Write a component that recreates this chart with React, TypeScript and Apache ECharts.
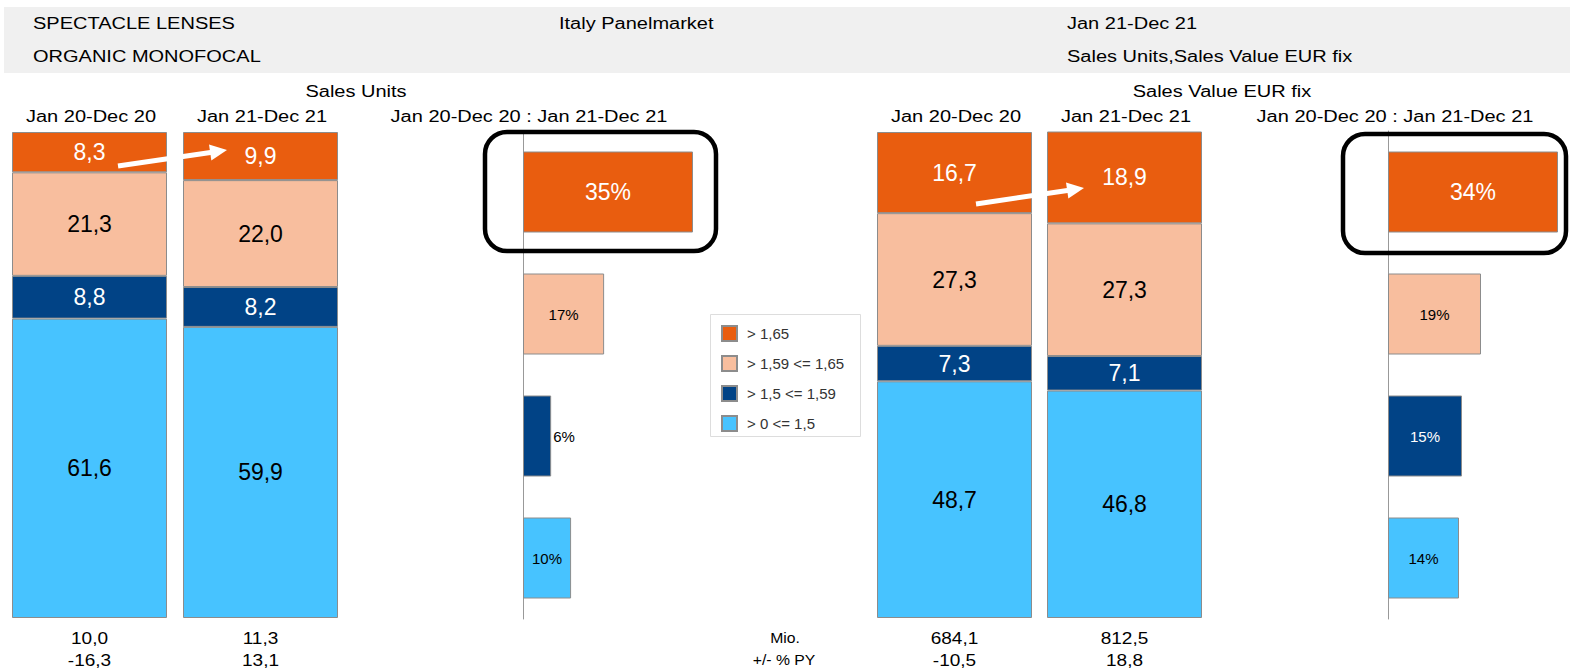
import React, { useEffect, useRef } from "react";
import * as echarts from "echarts";

// ---- data ----
const periods = ["Jan 20-Dec 20", "Jan 21-Dec 21"];
const classes = ["> 1,65", "> 1,59 <= 1,65", "> 1,5 <= 1,59", "> 0 <= 1,5"];

const unitsHigh = [8.3, 9.9];
const unitsMidHigh = [21.3, 22.0];
const unitsMidLow = [8.8, 8.2];
const unitsLow = [61.6, 59.9];

const valueHigh = [16.7, 18.9];
const valueMidHigh = [27.3, 27.3];
const valueMidLow = [7.3, 7.1];
const valueLow = [48.7, 46.8];

const unitsGrowth = [35, 16.7, 5.8, 9.9];
const valueGrowth = [34, 18.6, 14.8, 14.2];

const unitsTotal = ["10,0", "11,3"];
const unitsChange = ["-16,3", "13,1"];
const valueTotal = ["684,1", "812,5"];
const valueChange = ["-10,5", "18,8"];

const headerLeft = ["SPECTACLE LENSES", "ORGANIC MONOFOCAL"];
const headerMid = "Italy Panelmarket";
const headerRight = ["Jan 21-Dec 21", "Sales Units,Sales Value EUR fix"];

const COLORS = ["#E95D0F", "#F8BE9E", "#014386", "#47C3FF"];
const LABEL_COLORS = ["#fff", "#000", "#fff", "#000"];
const FONT = "Liberation Sans, Arial, sans-serif";
const BORDER = "#8c8c8c";

const fmt = (v: number) => v.toFixed(1).replace(".", ",");

function txt(text: string, x: number, y: number, align: string, size = 16, sx = 1.25, color = "#000") {
  return {
    type: "text",
    x,
    y,
    scaleX: sx,
    z: 20,
    style: {
      text,
      fill: color,
      fontSize: size,
      fontFamily: FONT,
      align,
      verticalAlign: "middle",
      textAlign: align,
      textVerticalAlign: "middle",
    },
  };
}

function arrow(x1: number, y1: number, x2: number, y2: number) {
  const dx = x2 - x1;
  const dy = y2 - y1;
  const len = Math.sqrt(dx * dx + dy * dy);
  const ux = dx / len;
  const uy = dy / len;
  const nx = -uy;
  const ny = ux;
  const hl = 17;
  const hw = 8;
  const bx = x2 - ux * hl;
  const by = y2 - uy * hl;
  return [
    {
      type: "line",
      z: 30,
      shape: { x1, y1, x2: bx + ux * 2, y2: by + uy * 2 },
      style: { stroke: "#fff", lineWidth: 5 },
    },
    {
      type: "polygon",
      z: 30,
      shape: {
        points: [
          [x2, y2],
          [bx + nx * hw, by + ny * hw],
          [bx - nx * hw, by - ny * hw],
        ],
      },
      style: { fill: "#fff" },
    },
  ];
}

function stackSeries(gridIdx: number, arrays: number[][]) {
  // arrays in top-to-bottom order; stack from bottom
  const order = [3, 2, 1, 0];
  return order.map((ci) => ({
    type: "bar",
    name: classes[ci],
    xAxisIndex: gridIdx,
    yAxisIndex: gridIdx,
    stack: "s" + gridIdx,
    barWidth: 155,
    data: arrays[ci],
    itemStyle: { color: COLORS[ci], borderColor: BORDER, borderWidth: 1 },
    label: {
      show: true,
      position: "inside",
      color: LABEL_COLORS[ci],
      fontSize: 23,
      fontFamily: FONT,
      formatter: (p: any) => fmt(p.value),
    },
  }));
}

function growthSeries(axisIdx: number, values: number[], labelCfg: any[]) {
  return {
    type: "bar",
    name: "growth" + axisIdx,
    xAxisIndex: axisIdx,
    yAxisIndex: axisIdx,
    barWidth: 81,
    data: values.map((v, i) => ({
      value: v,
      itemStyle: { color: COLORS[i], borderColor: BORDER, borderWidth: 1 },
      label: labelCfg[i],
    })),
    label: {
      show: true,
      fontFamily: FONT,
      formatter: (p: any) => Math.round(p.value) + "%",
    },
  };
}

export default function App() {
  const ref = useRef<HTMLDivElement>(null);

  useEffect(() => {
    if (!ref.current) return;
    const chart = echarts.init(ref.current, undefined, { renderer: "svg" });

    const bottomAxis = (idx: number) => ({
      type: "category",
      gridIndex: idx,
      data: periods,
      axisLine: { show: false },
      axisTick: { show: false },
      axisLabel: { show: false },
    });

    const growthX = (idx: number, max: number) => ({
      type: "value",
      gridIndex: idx,
      min: 0,
      max,
      show: false,
    });

    const growthY = (idx: number) => ({
      type: "category",
      gridIndex: idx,
      data: classes,
      inverse: true,
      axisLine: { show: true, lineStyle: { color: "#999", width: 1 } },
      axisTick: { show: false },
      axisLabel: { show: false },
    });

    const stackY = (idx: number) => ({
      type: "value",
      gridIndex: idx,
      min: 0,
      max: 100,
      show: false,
    });

    const unitsLabels = [
      { show: true, position: "inside", color: "#fff", fontSize: 23 },
      { show: true, position: "inside", color: "#000", fontSize: 15 },
      { show: true, position: "right", distance: 2, color: "#000", fontSize: 15 },
      { show: true, position: "inside", color: "#000", fontSize: 15 },
    ];
    const valueLabels = [
      { show: true, position: "inside", color: "#fff", fontSize: 23 },
      { show: true, position: "inside", color: "#000", fontSize: 15 },
      { show: true, position: "inside", color: "#fff", fontSize: 15 },
      { show: true, position: "inside", color: "#000", fontSize: 15 },
    ];

    const g = (left: number, top: number, width: number, height: number) => ({
      left,
      top,
      width,
      height,
      containLabel: false,
      outerBoundsMode: "none",
    });

    const barCenters = [89.5, 260.5, 954.5, 1124.5];
    const totals = [...unitsTotal, ...valueTotal];
    const changes = [...unitsChange, ...valueChange];

    const option: any = {
      animation: false,
      backgroundColor: "#fff",
      textStyle: { fontFamily: FONT },
      grid: [
        g(4, 132, 342, 486),
        g(523, 131, 170, 488),
        g(869.5, 132, 340, 486),
        g(1388, 131, 170, 488),
      ],
      xAxis: [bottomAxis(0), growthX(1, 35), bottomAxis(2), growthX(3, 34)],
      yAxis: [stackY(0), growthY(1), stackY(2), growthY(3)],
      legend: {
        orient: "vertical",
        left: 721,
        top: 325,
        padding: 0,
        itemWidth: 15,
        itemHeight: 15,
        itemGap: 13,
        icon: "rect",
        selectedMode: false,
        data: classes,
        textStyle: {
          fontSize: 15,
          color: "#333",
          fontFamily: FONT,
          padding: [0, 0, 0, 5],
        },
      },
      series: [
        ...stackSeries(0, [unitsHigh, unitsMidHigh, unitsMidLow, unitsLow]),
        growthSeries(1, unitsGrowth, unitsLabels),
        ...stackSeries(2, [valueHigh, valueMidHigh, valueMidLow, valueLow]),
        growthSeries(3, valueGrowth, valueLabels),
      ],
      graphic: [
        {
          type: "rect",
          z: 0,
          shape: { x: 4, y: 7, width: 1566, height: 66 },
          style: { fill: "#f0f0f0" },
        },
        txt(headerLeft[0], 33, 24, "left"),
        txt(headerLeft[1], 33, 57, "left"),
        txt(headerMid, 559, 24, "left"),
        txt(headerRight[0], 1067, 24, "left"),
        txt(headerRight[1], 1067, 57, "left"),
        txt("Sales Units", 356, 92, "center"),
        txt(periods[0], 91, 117, "center"),
        txt(periods[1], 262, 117, "center"),
        txt(periods[0] + " : " + periods[1], 529, 117, "center"),
        txt("Sales Value EUR fix", 1222, 92, "center"),
        txt(periods[0], 956, 117, "center"),
        txt(periods[1], 1126, 117, "center"),
        txt(periods[0] + " : " + periods[1], 1395, 117, "center"),
        txt("Mio.", 785, 638, "center", 15, 1.05),
        txt("+/- % PY", 784, 660, "center", 15, 1.05),
        ...barCenters.map((cx, i) => txt(totals[i], cx, 638, "center", 17, 1.12)),
        ...barCenters.map((cx, i) => txt(changes[i], cx, 660, "center", 17, 1.12)),
        {
          type: "rect",
          z: 1,
          shape: { x: 710.5, y: 314.5, width: 150, height: 122 },
          style: { fill: "#fff", stroke: "#dddddd", lineWidth: 1 },
        },
        {
          type: "rect",
          z: 25,
          shape: { x: 485, y: 132, width: 231, height: 119, r: 22 },
          style: { fill: "none", stroke: "#000", lineWidth: 4.5 },
        },
        {
          type: "rect",
          z: 25,
          shape: { x: 1343, y: 134, width: 223, height: 119, r: 22 },
          style: { fill: "none", stroke: "#000", lineWidth: 4.5 },
        },
        ...arrow(118, 166, 227, 150),
        ...arrow(976, 204, 1084, 188),
      ],
    };

    chart.setOption(option);
    return () => chart.dispose();
  }, []);

  return (
    <div
      ref={ref}
      style={{ position: "fixed", left: 0, top: 0, width: 1570, height: 669 }}
    />
  );
}
